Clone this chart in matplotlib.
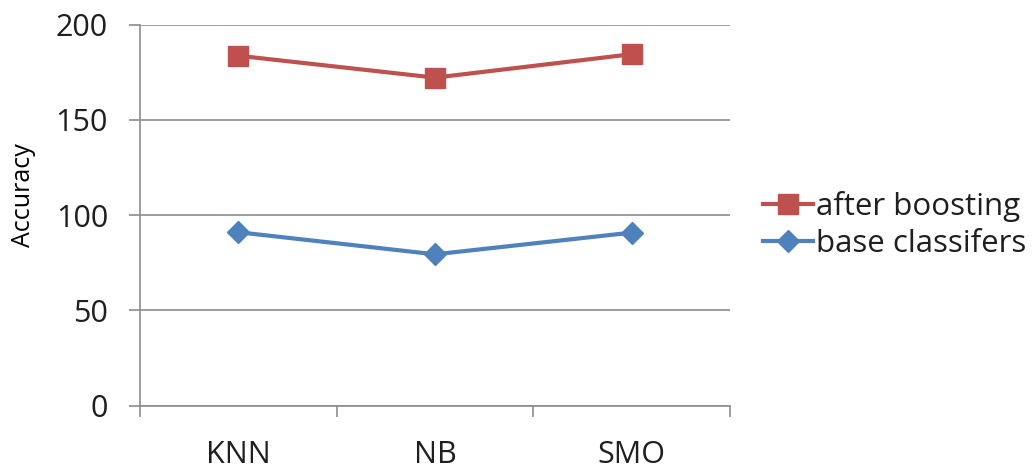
import numpy as np
import matplotlib
matplotlib.use("Agg")
import matplotlib.pyplot as plt

plt.rcParams['font.family'] = ['Open Sans', 'DejaVu Sans']

classifiers = ["KNN", "NB", "SMO"]
after_boosting = [183.7, 172.2, 184.5]
base_classifiers = [91.0, 79.4, 90.8]

red = "#C0504D"
blue = "#4F81BD"
grid_gray = "#8C8C8C"
text_col = "#1f1f1f"

fig = plt.figure(figsize=(10.35, 4.72), dpi=100)
ax = fig.add_axes([140 / 1035, 1 - 405.5 / 472, 590 / 1035, 380.8 / 472])

x = np.arange(len(classifiers)) + 0.5
ax.plot(x, after_boosting, color=red, lw=3, marker="s", ms=14,
        label="after boosting", solid_joinstyle="round")
ax.plot(x, base_classifiers, color=blue, lw=3, marker="D", ms=11,
        label="base classifers", solid_joinstyle="round")

ax.set_xlim(0, 3)
ax.set_ylim(0, 200)
ax.set_yticks([0, 50, 100, 150, 200])
ax.yaxis.grid(True, color=grid_gray, lw=1.2)
ax.set_axisbelow(True)

ax.set_xticks([0, 1, 2, 3])
ax.set_xticklabels([])
ax.set_xticks(x, minor=True)
ax.set_xticklabels(classifiers, minor=True)
ax.tick_params(axis="x", which="major", length=8, width=1.2, color=grid_gray)
ax.tick_params(axis="x", which="minor", length=0, pad=25, labelsize=22, labelcolor=text_col)
ax.tick_params(axis="y", length=8, width=1.2, color=grid_gray, pad=15,
               labelsize=22, labelcolor=text_col)

for side in ["top", "right"]:
    ax.spines[side].set_visible(False)
for side in ["left", "bottom"]:
    ax.spines[side].set_color(grid_gray)
    ax.spines[side].set_linewidth(1.2)

ax.set_ylabel("Accuracy", fontsize=18, color="black")
ax.yaxis.set_label_coords(-104 / 590, (405.5 - 195) / 380.8)

fig.legend(loc="center left", bbox_to_anchor=(763 / 1035, 1 - 225 / 472),
           frameon=False, fontsize=22.5, handlelength=1.6, handletextpad=0.1,
           labelspacing=0.2, labelcolor=text_col, borderpad=0, borderaxespad=0)

fig.savefig("out.png", dpi=100)
